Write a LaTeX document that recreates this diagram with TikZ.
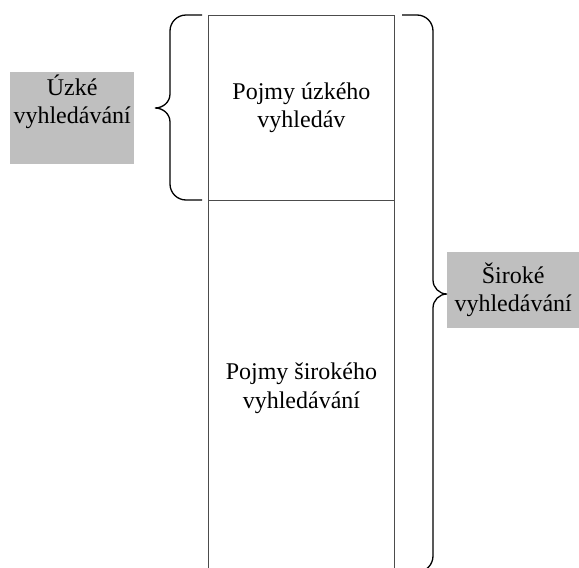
\documentclass[tikz,border=0pt]{standalone}
\usepackage{fontspec}
\setmainfont{Liberation Serif}
\usetikzlibrary{positioning}
\begin{document}
\begin{tikzpicture}[x=1pt,y=-1pt,
    column/.style={draw=black!70,line width=0.9pt,minimum width=186pt,inner sep=0pt,
        anchor=north west,align=center,font=\fontsize{24}{28.5}\selectfont},
    tag/.style={fill=black!25,align=center,inner xsep=3pt,inner ysep=2.5pt,
        font=\fontsize{24}{28.5}\selectfont},
    curly/.style={line width=1.3pt}]
\useasboundingbox (0,0) rectangle (579,568);
\clip (0,0) rectangle (579,568);
% the two parts of the column
\node[column,minimum height=185pt](narrow) at (208,15) {Pojmy úzkého\\vyhledáv};
\node[column,minimum height=376pt](wide) at (208,200) {Pojmy širokého\\vyhledávání};
% labels
\node[tag,minimum width=124pt,text depth=38pt,anchor=north west](narrowtag) at (10,72) {Úzké\\vyhledávání};
\node[tag,minimum width=132pt,minimum height=76pt,anchor=west](widetag) at (447,290) {Široké\\vyhledávání};
% braces
\draw[curly](202,15)--(186,15) arc[start angle=270,end angle=180,radius=16]--(170,94)
    to[out=-90,in=0](155,108) to[out=0,in=90](170,122)--(170,184)
    arc[start angle=180,end angle=90,radius=16]--(202,200);
\draw[curly](402,15)--(417,15) arc[start angle=-90,end angle=0,radius=16]--(433,280)
    to[out=-90,in=180](447,294) to[out=180,in=90](433,308)--(433,556)
    arc[start angle=0,end angle=90,radius=16]--(402,572);
\end{tikzpicture}
\end{document}
